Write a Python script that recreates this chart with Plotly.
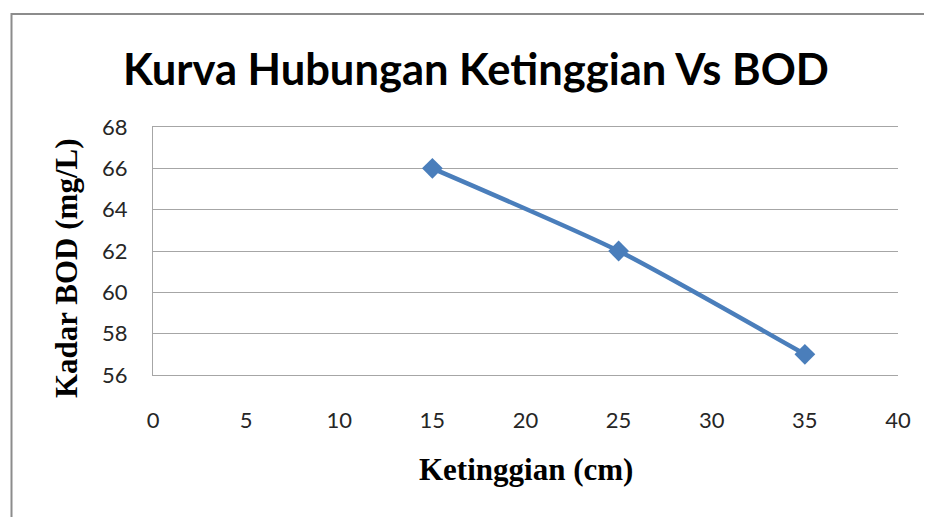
import plotly.graph_objects as go

ketinggian = [15, 25, 35]
bod = [66, 62, 57]
x_ticks = [0, 5, 10, 15, 20, 25, 30, 35, 40]
y_ticks = [56, 58, 60, 62, 64, 66, 68]

title_text = "Kurva Hubungan Ketinggian Vs BOD"
x_title = "Ketinggian (cm)"
y_title = "Kadar BOD (mg/L)"

W, H = 932, 517
OFF = 8  # page body margin
# target pixel positions in the screenshot
PL, PR, PT, PB = 153, 898, 127, 375
L = PL - OFF
T = PT - OFF
R = W - (PR - OFF)
B = H - (PB - OFF)
pw = PR - PL
ph = PB - PT


def px_x(x):
    return (x - PL) / pw


def px_y(y):
    return (PB - y) / ph


fig = go.Figure()
fig.add_trace(go.Scatter(
    x=ketinggian, y=bod, mode="lines+markers",
    line=dict(color="#4A7EBB", width=4.5, shape="spline", smoothing=0.6),
    marker=dict(symbol="diamond", size=16, color="#4A7EBB"),
    showlegend=False, hoverinfo="x+y",
))

axis_font = dict(family="Lato, Calibri, sans-serif", size=22, color="#262626")
serif_font = dict(family="Liberation Serif, Times New Roman, serif", size=31, color="black")

fig.update_layout(
    width=W, height=H,
    margin=dict(l=L, r=R, t=T, b=B),
    paper_bgcolor="white", plot_bgcolor="white",
    xaxis=dict(range=[0, 40], tickvals=x_ticks, showgrid=False, zeroline=False,
               showline=True, mirror=True, linecolor="#a6a6a6", linewidth=1,
               ticks="", tickfont=axis_font, ticklabelstandoff=26),
    yaxis=dict(range=[56, 68], tickvals=y_ticks, showgrid=True, gridcolor="#a6a6a6",
               gridwidth=1, zeroline=False, showline=True, linecolor="#a6a6a6",
               linewidth=1, ticks="", tickfont=axis_font, ticklabelstandoff=20),
    annotations=[
        dict(text="<b>" + title_text + "</b>", xref="paper", yref="paper",
             x=px_x(476), y=px_y(68), xanchor="center", yanchor="middle",
             showarrow=False,
             font=dict(family="Lato, Calibri, sans-serif", size=43.5, color="black")),
        dict(text="<b>" + x_title + "</b>", xref="paper", yref="paper",
             x=px_x(526), y=px_y(469), xanchor="center", yanchor="middle",
             showarrow=False, font=serif_font),
        dict(text="<b>" + y_title + "</b>", xref="paper", yref="paper",
             x=px_x(66), y=px_y(268), xanchor="center", yanchor="middle",
             textangle=-90, showarrow=False, font=serif_font),
    ],
)

# chart border (Excel chart area outline)
fig.add_shape(type="rect", xref="paper", yref="paper",
              x0=px_x(11.5), x1=px_x(W + 20),
              y0=px_y(H + 20), y1=px_y(14),
              line=dict(color="#8c8c8c", width=2), fillcolor="rgba(0,0,0,0)", layer="below")

fig.write_html("out.html")
